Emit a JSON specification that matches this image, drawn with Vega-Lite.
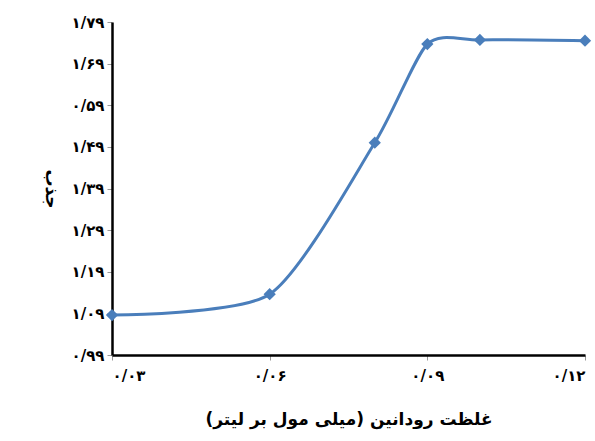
{
  "$schema": "https://vega.github.io/schema/vega-lite/v6.json",
  "width": 473,
  "height": 333,
  "autosize": "none",
  "padding": {"left": 112, "top": 22, "right": 10, "bottom": 86},
  "background": "white",
  "data": {"values": [
    {"c": 0.03, "a": 1.086},
    {"c": 0.06, "a": 1.136},
    {"c": 0.08, "a": 1.50},
    {"c": 0.09, "a": 1.737},
    {"c": 0.10, "a": 1.747},
    {"c": 0.12, "a": 1.745}
  ]},
  "encoding": {
    "x": {"field": "c", "type": "quantitative",
      "scale": {"domain": [0.03, 0.12], "nice": false},
      "axis": {"values": [0.03, 0.06, 0.09, 0.12], "title": "غلظت رودانین (میلی مول بر لیتر)",
        "labelExpr": "replace(replace(replace(replace(replace(replace(replace(format(datum.value, '.2f'), '.', '/'), regexp('0','g'), '۰'), regexp('3','g'), '۳'), regexp('6','g'), '۶'), regexp('9','g'), '۹'), regexp('1','g'), '۱'), regexp('2','g'), '۲')",
        "titlePadding": 28}},
    "y": {"field": "a", "type": "quantitative",
      "scale": {"domain": [0.99, 1.79], "nice": false, "zero": false},
      "axis": {"values": [0.99, 1.09, 1.19, 1.29, 1.39, 1.49, 1.59, 1.69, 1.79], "title": "جذب",
        "titleAngle": 90, "titlePadding": 30,
        "labelExpr": "datum.value > 1.58 && datum.value < 1.6 ? '۰/۵۹' : replace(replace(replace(replace(replace(replace(replace(replace(replace(replace(format(datum.value, '.2f'), '.', '/'), regexp('0','g'), '۰'), regexp('1','g'), '۱'), regexp('2','g'), '۲'), regexp('3','g'), '۳'), regexp('4','g'), '۴'), regexp('5','g'), '۵'), regexp('6','g'), '۶'), regexp('7','g'), '۷'), regexp('9','g'), '۹')"}}
  },
  "layer": [
    {"mark": {"type": "line", "interpolate": "cardinal", "tension": 0.3, "color": "#4a7ebb", "strokeWidth": 3}},
    {"mark": {"type": "point", "shape": "diamond", "filled": true, "color": "#4a7ebb", "opacity": 1, "size": 150}}
  ],
  "config": {
    "view": {"stroke": null},
    "axis": {"grid": false, "domainColor": "black", "domainWidth": 2.5, "tickColor": "#999", "tickSize": 5,
      "labelFont": "DejaVu Sans", "labelFontWeight": "bold", "labelFontSize": 15, "labelColor": "black",
      "titleFont": "DejaVu Sans", "titleFontWeight": "bold", "titleFontSize": 17, "titleColor": "black"},
    "axisX": {"labelPadding": 8},
    "axisY": {"labelPadding": 3}
  }
}
